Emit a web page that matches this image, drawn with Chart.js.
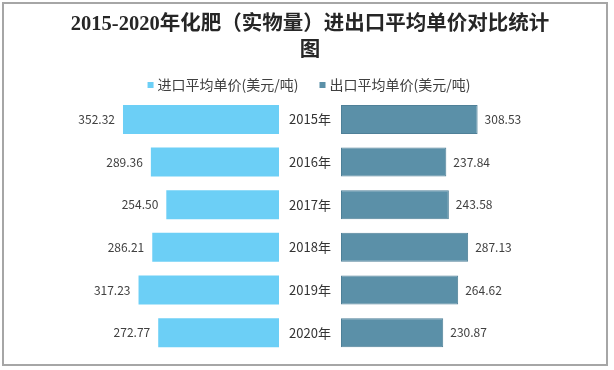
<!DOCTYPE html>
<html>
<head>
<meta charset="utf-8">
<script src="https://cdn.jsdelivr.net/npm/chart.js@4.4.0/dist/chart.umd.min.js"></script>
<style>
  html, body { margin: 0; padding: 0; background: #fff; }
  #wrap { width: 614px; height: 370px; position: relative; }
</style>
</head>
<body>
<div id="wrap"><canvas id="priceChart" width="614" height="370"></canvas></div>
<script>
// 数据
const years = ['2015年', '2016年', '2017年', '2018年', '2019年', '2020年'];
const importPrice = [352.32, 289.36, 254.50, 286.21, 317.23, 272.77];
const exportPrice = [308.53, 237.84, 243.58, 287.13, 264.62, 230.87];
const seriesNames = ['进口平均单价(美元/吨)', '出口平均单价(美元/吨)'];

const GAP = 70; // 中间年份标签留白（数值单位）
const importColor = '#6ccff6';
const exportColor = '#5b90a8';
const textFont = "'Noto Sans CJK SC', 'Noto Sans', sans-serif";

// 背景和外框
const framePlugin = {
    id: 'frame',
    beforeDraw(chart) {
        const ctx = chart.ctx;
        ctx.save();
        ctx.fillStyle = '#ffffff';
        ctx.fillRect(0, 0, chart.width, chart.height);
        ctx.strokeStyle = '#a6a6a6';
        ctx.lineWidth = 2;
        ctx.strokeRect(3, 3, 604, 362);
        ctx.restore();
    }
};

// 图例（手动绘制）
const legendPlugin = {
    id: 'myLegend',
    afterDraw(chart) {
        const ctx = chart.ctx;
        ctx.save();
        ctx.font = '14px ' + textFont;
        const box = 6, gap = 4, between = 21;
        const w = seriesNames.map(t => ctx.measureText(t).width);
        const total = box + gap + w[0] + between + box + gap + w[1];
        let x = 309 - total / 2;
        const y = 85;
        [importColor, exportColor].forEach((c, i) => {
            ctx.fillStyle = c;
            ctx.fillRect(x, y - box / 2, box, box);
            x += box + gap;
            ctx.fillStyle = '#404040';
            ctx.textBaseline = 'middle';
            ctx.textAlign = 'left';
            ctx.fillText(seriesNames[i], x, y);
            x += w[i] + between;
        });
        ctx.restore();
    }
};

// 数值标签和年份标签
const labelPlugin = {
    id: 'barLabels',
    afterDatasetsDraw(chart) {
        const ctx = chart.ctx;
        ctx.save();
        ctx.textBaseline = 'middle';
        ctx.font = '12px ' + textFont;
        ctx.fillStyle = '#404040';
        chart.getDatasetMeta(0).data.forEach((bar, i) => {
            const left = Math.min(bar.x, bar.base);
            ctx.textAlign = 'right';
            ctx.fillText(importPrice[i].toFixed(2), left - 8, bar.y);
        });
        chart.getDatasetMeta(1).data.forEach((bar, i) => {
            const right = Math.max(bar.x, bar.base);
            ctx.textAlign = 'left';
            ctx.fillText(exportPrice[i].toFixed(2), right + 7, bar.y);
        });
        const cx = chart.scales.x.getPixelForValue(0);
        ctx.font = '13px ' + textFont;
        ctx.fillStyle = '#333333';
        ctx.textAlign = 'center';
        years.forEach((yr, i) => {
            ctx.fillText(yr, cx, chart.scales.y.getPixelForValue(i));
        });
        ctx.restore();
    }
};

new Chart(document.getElementById('priceChart'), {
    type: 'bar',
    data: {
        labels: years,
        datasets: [{
            label: seriesNames[0],
            data: importPrice.map(v => [-(GAP + v), -GAP]),
            backgroundColor: importColor,
            borderWidth: 0,
            grouped: false,
            barPercentage: 0.68,
            categoryPercentage: 1
        }, {
            label: seriesNames[1],
            data: exportPrice.map(v => [GAP, GAP + v]),
            backgroundColor: exportColor,
            borderColor: '#4f8098',
            borderWidth: 1,
            borderSkipped: false,
            grouped: false,
            barPercentage: 0.68,
            categoryPercentage: 1
        }]
    },
    options: {
        indexAxis: 'y',
        responsive: false,
        animation: false,
        layout: {
            padding: { left: 8, right: 2, top: 0, bottom: 16 }
        },
        scales: {
            x: { display: false, min: -682, max: 682 },
            y: { display: false }
        },
        plugins: {
            legend: { display: false },
            tooltip: { enabled: false },
            title: {
                display: true,
                text: ['2015-2020年化肥（实物量）进出口平均单价对比统计', '图'],
                color: '#262626',
                font: {
                    family: "'Liberation Serif', 'Noto Sans CJK SC', serif",
                    size: 20.5,
                    weight: 'bold',
                    lineHeight: 1.25
                },
                padding: { top: 12, bottom: 34.8 }
            }
        }
    },
    plugins: [framePlugin, legendPlugin, labelPlugin]
});
</script>
</body>
</html>
